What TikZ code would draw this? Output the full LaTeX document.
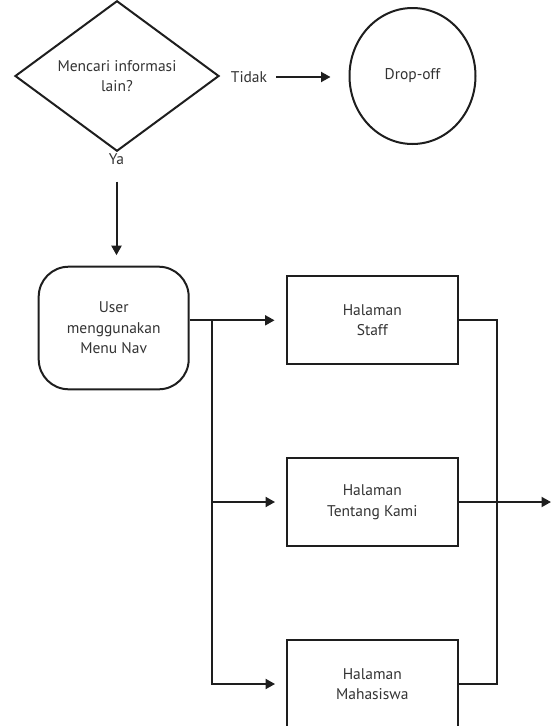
\documentclass[tikz,border=0pt]{standalone}
\usepackage{fontspec}
\setmainfont{PT Sans}
\usetikzlibrary{shapes.geometric,arrows.meta,calc}
\definecolor{txt}{HTML}{333333}
\definecolor{ln}{HTML}{1E1E1E}
\tikzset{
  base/.style={draw=ln, line width=2pt, text=txt, align=center, inner sep=0pt,
    font=\fontsize{15.5}{20.5}\selectfont},
  decision/.style={base, diamond, minimum width=204pt, minimum height=134pt},
  terminal/.style={base, ellipse, minimum width=126pt, minimum height=136pt},
  startbox/.style={base, rectangle, rounded corners=30pt, minimum width=150pt, minimum height=122.6pt},
  pagebox/.style={base, rectangle, minimum width=170.5pt, minimum height=88pt},
  lbl/.style={text=txt, inner sep=0pt, font=\fontsize{15.5}{20.5}\selectfont},
  conn/.style={draw=ln, line width=2pt},
  arr/.style={conn, -{Triangle[length=9.5pt,width=10pt]}}
}
\begin{document}
\begin{tikzpicture}[x=1pt,y=-1pt]
\useasboundingbox (0,0) rectangle (551,726);
\node[decision] (dec) at (117,76) {Mencari informasi\\lain?};
\node[lbl] (tidak) at (249,77) {Tidak};
\node[terminal] (drop) at (412.5,76) {Drop-off};
\node[lbl] (ya) at (116.5,159.5) {Ya};
\node[startbox] (user) at (113.7,328) {User\\menggunakan\\Menu Nav};
\node[pagebox] (staff) at (372.3,320.3) {Halaman\\Staff};
\node[pagebox] (tentang) at (372.3,502) {Halaman\\Tentang Kami};
\node[pagebox] (maha) at (372.3,684) {Halaman\\Mahasiswa};
\coordinate (br) at (212,320.5);
\coordinate (rx) at (496.5,320.3);
\coordinate (out) at (551,502);

\draw[arr, shorten >=18pt] ([xshift=9pt]tidak.east) -- (tidak.east -| drop.west);
\draw[arr] ([yshift=-22pt]ya.center) -- ([yshift=10.5pt]ya.center |- user.north);
\draw[arr, shorten >=11.5pt] (staff.west -| user.east) -- (staff.west);
\draw[arr, shorten >=11pt] (br) |- (maha.west);
\draw[arr, shorten >=11pt] (br |- tentang.west) -- (tentang.west);
\draw[conn] (staff.east) -- (rx) -- (rx |- maha.east) -- (maha.east);
\draw[arr] (tentang.east) -- (out);
\end{tikzpicture}
\end{document}
